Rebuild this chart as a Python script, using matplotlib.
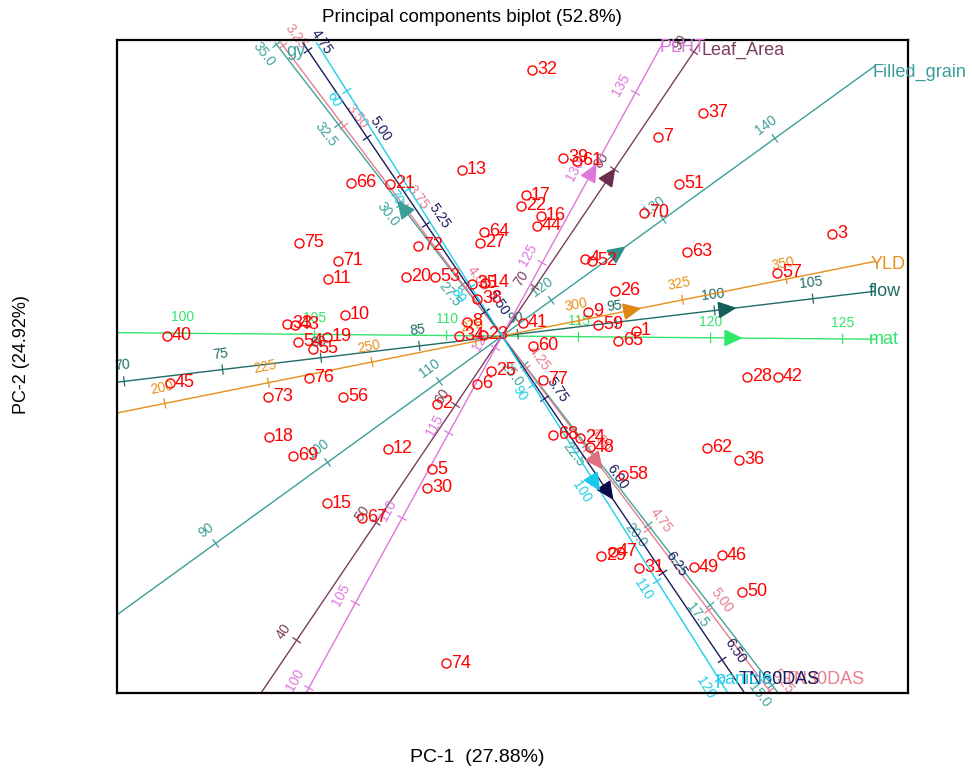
import numpy as np
import matplotlib
matplotlib.use("Agg")
import matplotlib.pyplot as plt
from matplotlib.patches import Polygon

plt.rcParams['font.family'] = ['Liberation Sans', 'DejaVu Sans']

# genotype scores on the first two principal components
genotypes = [str(i) for i in range(1, 78)]
pc1 = [1.34, -0.65, 3.30, 0.83, -0.70, -0.25, 1.56, -0.35, 0.86, -1.57,
       -1.74, -1.14, -0.40, -0.17, -1.75, 0.39, 0.24, -2.33, -1.75, -0.96,
       -1.12, 0.19, -0.19, 0.78, -0.11, 1.13, -0.22, 2.45, 0.99, -0.75,
       1.37, 0.30, -2.15, -0.43, -0.30, 2.37, 2.01, -0.25, 0.61, -3.35,
       0.21, 2.76, -2.07, 0.35, -3.32, 2.20, 1.11, 0.88, 1.92, 2.40,
       1.77, 0.90, -0.67, -2.04, -1.89, -1.59, 2.75, 1.21, 0.96, 0.31,
       0.75, 2.05, 1.85, -0.18, 1.16, -1.51, -1.40, 0.51, -2.09, 1.42,
       -1.64, -0.84, -2.34, -0.56, -2.03, -1.93, 0.41]
pc2 = [0.05, -0.68, 1.02, 0.77, -1.33, -0.48, 1.99, 0.14, 0.24, 0.21,
       0.57, -1.13, 1.66, 0.53, -1.67, 1.20, 1.41, -1.01, -0.01, 0.59,
       1.52, 1.30, 0.01, -1.02, -0.35, 0.45, 0.93, -0.41, -2.20, -1.52,
       -2.32, 2.66, 0.12, 0.00, 0.52, -1.24, 2.23, 0.37, 1.78, 0.00,
       0.13, -0.41, 0.11, 1.10, -0.47, -2.19, -2.16, -1.11, -2.31, -2.56,
       1.52, 0.75, 0.59, -0.06, -0.13, -0.61, 0.63, -1.39, 0.11, -0.10,
       1.75, -1.12, 0.84, 1.04, -0.05, 1.53, -1.82, -0.99, -1.20, 1.23,
       0.75, 0.90, -0.61, -3.27, 0.93, -0.42, -0.44]

# trait vectors: arrow position, value at the origin, axis length per unit, tick step
traits = ['mat', 'flow', 'YLD', 'Filled_grain', 'Leaf_Area', 'PLHT', 'gy',
          'TN30DAS', 'TN60DAS', 'panicle']
trait_colors = ['#33e46c', '#1e6b66', '#e8901a', '#3c9e9a', '#7a3e5c',
                '#dd77dd', '#40a39b', '#e87d8e', '#1a1a5e', '#1fd0e8']
arrow_colors = ['#2ee86a', '#145e58', '#e08612', '#2f8f8a', '#6b2e4a',
                '#dd77dd', '#3a9e98', '#e07080', '#0a0a4a', '#18c8e8']
load_x = [2.31, 2.25, 1.30, 1.16, 1.08, 0.90, -0.99, 0.95, 1.06, 0.93]
load_y = [-0.02, 0.27, 0.26, 0.84, 1.60, 1.64, 1.28, -1.26, -1.56, -1.47]
centre_val = [112.1, 89.2, 281.4, 115.6, 65.85, 120.7, 25.9, 4.15, 5.57, 85.0]
unit_len = [0.264, 0.1982, 0.04224, 0.1381, 0.142, 0.194, 0.405, 4.04, 4.21, 0.116]
tick_step = [5, 5, 25, 10, 10, 5, 2.5, 0.25, 0.25, 10]
tick_fmt = ['{:.0f}', '{:.0f}', '{:.0f}', '{:.0f}', '{:.0f}', '{:.0f}',
            '{:.1f}', '{:.2f}', '{:.2f}', '{:.0f}']
label_side = [1, 1, 1, 1, 1, 1, 1, 1, 1, -1]
name_offset = [(-6, 0), (-6, 0), (-4, -3), (-3, -7), (2, -7), (-3, -5),
               (11, -9), (12, 13), (-6, 13), (-12, 13)]

# region the trait lines are drawn in (score units)
X_LO, X_HI, Y_LO, Y_HI = -3.85, 3.73, -3.57, 2.93


def line_limits(dx, dy):
    t_hi, t_lo = np.inf, -np.inf
    for d, lo, hi in ((dx, X_LO, X_HI), (dy, Y_LO, Y_HI)):
        if abs(d) < 1e-9:
            continue
        a, b = lo / d, hi / d
        t_hi = min(t_hi, max(a, b))
        t_lo = max(t_lo, min(a, b))
    return t_lo, t_hi


def draw_trait(ax, i):
    vx, vy = load_x[i], load_y[i]
    norm = np.hypot(vx, vy)
    dx, dy = vx / norm, vy / norm
    nx, ny = -dy, dx
    col = trait_colors[i]
    t_lo, t_hi = line_limits(dx, dy)
    ax.plot([t_lo * dx, t_hi * dx], [t_lo * dy, t_hi * dy], color=col,
            lw=1.0, clip_on=False, zorder=2)

    ang = np.degrees(np.arctan2(dy, dx))
    if ang > 90:
        ang -= 180
    if ang < -90:
        ang += 180

    # calibration ticks
    step = tick_step[i]
    v_lo = centre_val[i] + t_lo / unit_len[i]
    v_hi = centre_val[i] + t_hi / unit_len[i]
    v = np.ceil(v_lo / step - 1e-6) * step
    while v <= v_hi + 1e-9:
        t = (v - centre_val[i]) * unit_len[i]
        px, py = t * dx, t * dy
        ax.plot([px - 0.045 * nx, px + 0.045 * nx], [py - 0.045 * ny, py + 0.045 * ny],
                color=col, lw=0.9, clip_on=False, zorder=2)
        s = label_side[i]
        ax.text(px + s * 0.16 * nx, py + s * 0.16 * ny, tick_fmt[i].format(v),
                color=col, fontsize=10, rotation=ang, rotation_mode='anchor',
                ha='center', va='center', clip_on=False, zorder=2)
        v += step

    # arrow head at the trait vector
    tip = np.array([vx + 0.08 * dx, vy + 0.08 * dy])
    base = np.array([vx - 0.08 * dx, vy - 0.08 * dy])
    tri = [tip, base + 0.075 * np.array([nx, ny]), base - 0.075 * np.array([nx, ny])]
    ax.add_patch(Polygon(tri, closed=True, color=arrow_colors[i], zorder=3, clip_on=False))

    ox, oy = name_offset[i]
    ax.annotate(traits[i], (t_hi * dx, t_hi * dy), xytext=(ox, oy),
                textcoords='offset pixels', color=col, fontsize=13,
                ha='left', va='center', annotation_clip=False, zorder=4)


fig = plt.figure(figsize=(9.72, 7.69), dpi=100)
ax = fig.add_axes([117 / 972, 1 - 693 / 769, 791 / 972, 653 / 769])
ax.set_xlim(-3.85, 4.06)
ax.set_ylim(-3.57, 2.96)
ax.set_xticks([])
ax.set_yticks([])
for sp in ax.spines.values():
    sp.set_linewidth(1.6)
    sp.set_color('black')

for i in range(len(traits)):
    draw_trait(ax, i)

ax.plot(pc1, pc2, 'o', mfc='none', mec='red', ms=6.5, mew=1.0, zorder=5)
for g, x, y in zip(genotypes, pc1, pc2):
    ax.annotate(g, (x, y), xytext=(5, 0), textcoords='offset pixels',
                color='red', fontsize=13, ha='left', va='center', zorder=5)

fig.text(472 / 972, 1 - 18 / 769, 'Principal components biplot (52.8%)',
         ha='center', va='center', fontsize=13.5)
fig.text(477 / 972, 1 - 757 / 769, 'PC-1  (27.88%)', ha='center', va='center', fontsize=14)
fig.text(22 / 972, 1 - 355 / 769, 'PC-2 (24.92%)', ha='center', va='center',
         fontsize=13, rotation=90)

fig.savefig('out.png', dpi=100)
